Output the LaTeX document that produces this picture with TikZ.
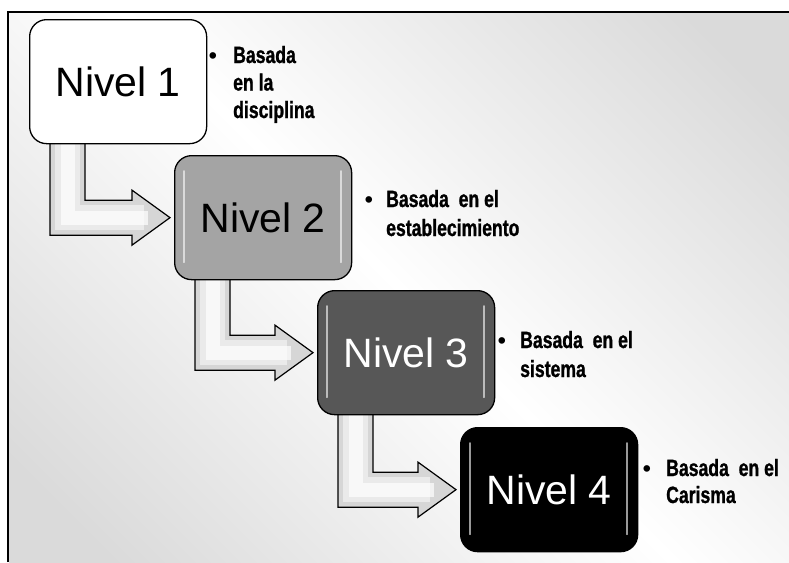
\documentclass[tikz,border=0pt]{standalone}
\usepackage{fontspec}
\setmainfont{Liberation Sans}
\newfontfamily\condfont[FakeStretch=0.75,FakeBold=1]{Liberation Sans}
\usetikzlibrary{calc}
\pgfdeclarelayer{bglayer}
\pgfdeclarelayer{arrowlayer}
\pgfsetlayers{bglayer,arrowlayer,main}
\definecolor{lvtwo}{HTML}{A4A4A4}
\definecolor{lvthree}{HTML}{575757}
\definecolor{arrowfill}{HTML}{D6D6D6}
\definecolor{bggray}{HTML}{DADADA}
\newcommand{\lvlarrow}[2]{%
  \coordinate (#1-tip) at ($(#2.west)+(-4,0)$);
  \coordinate (#1-L) at ($(#1.south west)+(21,-4)$);
  \coordinate (#1-R) at ($(#1.south west)+(56,-4)$);
  \coordinate (#1-C) at ($(#1.south west)+(38.5,-4)$);
  \draw[blockarrow] (#1-L) -- ($(#1-L |- #1-tip)+(0,17.5)$)
    -- ($(#1-tip)+(-38,17.5)$) -- ($(#1-tip)+(-38,27.5)$) -- (#1-tip)
    -- ($(#1-tip)+(-38,-27.5)$) -- ($(#1-tip)+(-38,-17.5)$)
    -- ($(#1-R |- #1-tip)+(0,-17.5)$) -- (#1-R) -- cycle;
  \draw[arrowshine, line width=25pt, opacity=0.5] (#1-C) -- (#1-C |- #1-tip) -- ($(#1-tip)+(-26,0)$);
  \draw[arrowshine, line width=14pt, opacity=0.7] (#1-C) -- (#1-C |- #1-tip) -- ($(#1-tip)+(-22,0)$);
}
\newcommand{\lvlgloss}[1]{%
  \draw[glossline] ($(#1.north west)+(10,16)$) -- ($(#1.south west)+(10,-18)$);
  \draw[glossline] ($(#1.north east)+(-11,16)$) -- ($(#1.south east)+(-11,-18)$);
}
\begin{document}
\begin{tikzpicture}[x=1pt,y=-1pt,
  level/.style={draw=black, line width=1.3pt, rounded corners=17pt,
    minimum width=177pt, minimum height=124pt, inner sep=0pt,
    anchor=north west, font=\fontsize{41}{41}\selectfont},
  blockarrow/.style={draw=black, line width=1.2pt, fill=arrowfill, line join=miter},
  arrowshine/.style={white, line join=miter},
  glossline/.style={white, line width=1.8pt, opacity=0.6, line cap=round},
  note/.style={font=\condfont\bfseries\fontsize{23.5}{29}\selectfont,
    align=left, anchor=base west, inner sep=0pt},
  bul/.style={font=\bfseries\fontsize{23}{23}\selectfont,
    anchor=base, inner sep=0pt}
]
\useasboundingbox (0,0) rectangle (789,562);
\begin{pgfonlayer}{bglayer}
\fill[white] (0,0) rectangle (789,562);
\begin{scope}[y=1pt]
\clip (9,-13) rectangle (789,-562);
\shade[top color=bggray, bottom color=bggray, middle color=white, shading angle=-45]
  (399,-287) ++(-400,-400) rectangle ++(800,800);
\end{scope}
\draw[line width=2pt] (8,562) -- (8,12) -- (789,12);
\end{pgfonlayer}

% level boxes
\node[level, fill=white] (n1) at (29,19) {Nivel 1};
\node[level, fill=lvtwo] (n2) at (174,155) {Nivel 2};
\node[level, fill=lvthree, text=white] (n3) at (317,290) {Nivel 3};
\node[level, fill=black, text=white] (n4) at (460,427) {Nivel 4};
\lvlgloss{n2}
\lvlgloss{n3}
\lvlgloss{n4}

% arrows (under boxes)
\begin{pgfonlayer}{arrowlayer}
\lvlarrow{n1}{n2}
\lvlarrow{n2}{n3}
\lvlarrow{n3}{n4}
\end{pgfonlayer}

% notes (anchor = baseline of the last line)
\node[bul] (b1) at (213,63) {\textbullet};
\node[note, font=\condfont\bfseries\fontsize{23.5}{27.5}\selectfont] (t1) at (233,118) {Basada\\en la\\disciplina};
\node[bul] (b2) at (369,207) {\textbullet};
\node[note] (t2) at (386,236) {Basada~~en el\\establecimiento};
\node[bul] (b3) at (502,348) {\textbullet};
\node[note] (t3) at (520,377) {Basada~~en el\\sistema};
\node[bul] (b4) at (647,476) {\textbullet};
\node[note, font=\condfont\bfseries\fontsize{23.5}{27}\selectfont] (t4) at (666,503) {Basada~~en el\\Carisma};
\end{tikzpicture}
\end{document}
